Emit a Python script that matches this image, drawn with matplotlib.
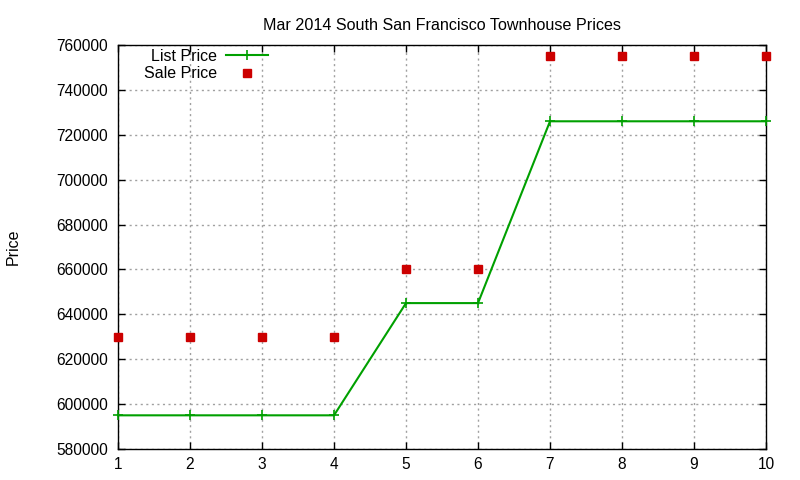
import matplotlib.pyplot as plt
from matplotlib.ticker import MultipleLocator

plt.rcParams["font.family"] = ["Liberation Sans", "DejaVu Sans"]
plt.rcParams["font.size"] = 9.5

months = [1, 2, 3, 4, 5, 6, 7, 8, 9, 10]
list_price = [595000, 595000, 595000, 595000, 645000, 645000, 726000, 726000, 726000, 726000]
sale_price = [630000, 630000, 630000, 630000, 660000, 660000, 755000, 755000, 755000, 755000]

fig = plt.figure(figsize=(8, 4.8), dpi=100)
ax = fig.add_axes([0.1475, 0.0646, 0.81, 0.8417])

ax.plot(months, list_price, color="#00a000", lw=1.5, marker="+", ms=7, mew=1.2,
        label="List Price", clip_on=False, zorder=3)
ax.plot(months, sale_price, color="#cc0000", lw=0, marker="s", ms=5.5,
        label="Sale Price", clip_on=False, zorder=4)

ax.set_xlim(1, 10)
ax.set_ylim(580000, 760000)
ax.xaxis.set_major_locator(MultipleLocator(1))
ax.yaxis.set_major_locator(MultipleLocator(20000))
ax.tick_params(direction="in", top=True, right=True, length=5, width=1, labelsize=11.2)
ax.tick_params(axis="y", pad=7)
ax.tick_params(axis="x", pad=5.5)
for s in ax.spines.values():
    s.set_linewidth(1)
ax.grid(True, color="#a0a0a0", linestyle=(0, (1.5, 2.5)), lw=1)

ax.set_title("Mar 2014 South San Francisco Townhouse Prices", fontsize=11.6, pad=11)
ax.set_ylabel("Price", fontsize=11.5)
ax.yaxis.set_label_coords(-0.15, 0.5)

leg = ax.legend(loc="upper left", bbox_to_anchor=(0.02, 1.022), frameon=False, markerfirst=False,
                handlelength=2.6, labelspacing=0.15, handletextpad=0.6, borderpad=0.3,
                fontsize=11.5)
for t in leg.get_texts():
    t.set_ha("right")

fig.savefig("out.png", dpi=100)
